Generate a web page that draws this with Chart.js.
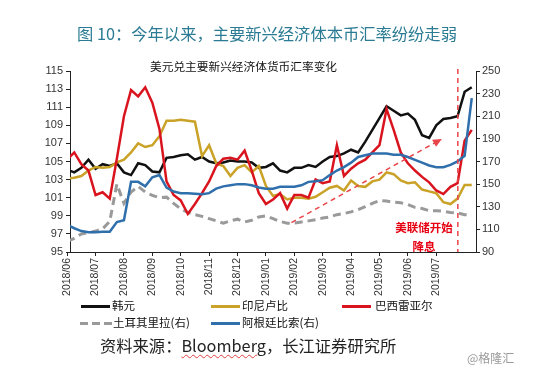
<!DOCTYPE html>
<html>
<head>
<meta charset="utf-8">
<script src="https://cdn.jsdelivr.net/npm/chart.js@4.4.1/dist/chart.umd.min.js"></script>
<style>
body { margin: 0; background: #fff; font-family: "Noto Sans CJK SC", "Liberation Sans", sans-serif; }
#wrap { position: relative; width: 550px; height: 372px; overflow: hidden; }
#wrap canvas { position: absolute; left: 0; top: 0; }
.t { position: absolute; white-space: nowrap; line-height: 1; }
.title { left: 77px; top: 25px; font-size: 16.3px; color: #2a7b93; }
.sub { left: 150px; top: 60px; font-size: 11.7px; color: #111; }
.note { font-size: 11.5px; color: #e60012; font-weight: bold; transform: translateX(-50%); }
.leg { font-size: 11.5px; color: #111; }
.sw { position: absolute; width: 29px; height: 3px; }
.src { left: 100px; top: 337px; font-size: 16.3px; color: #222; }
.src .b { text-decoration: underline wavy #e04040; text-decoration-thickness: 1px; text-underline-offset: 2px; }
.wm { left: 467px; top: 352px; font-size: 12px; color: #9a9a9a; }
</style>
</head>
<body>
<div id="wrap">
  <canvas id="fxChart" width="550" height="372"></canvas>
  <div class="t title">图 10：今年以来，主要新兴经济体本币汇率纷纷走弱</div>
  <div class="t sub">美元兑主要新兴经济体货币汇率变化</div>
  <div class="t note" style="left:424px;top:222px;">美联储开始</div>
  <div class="t note" style="left:424px;top:241px;">降息</div>

  <div class="sw" style="left:81px;top:305px;background:#111;"></div>
  <div class="t leg" style="left:112px;top:300px;">韩元</div>
  <div class="sw" style="left:211px;top:305px;background:#c9a227;"></div>
  <div class="t leg" style="left:242px;top:300px;">印尼卢比</div>
  <div class="sw" style="left:342px;top:305px;background:#d9141e;"></div>
  <div class="t leg" style="left:375px;top:300px;">巴西雷亚尔</div>
  <div class="sw" style="left:80px;top:322px;background:repeating-linear-gradient(90deg,#9a9a9a 0 8px,transparent 8px 12px);width:32px;"></div>
  <div class="t leg" style="left:113px;top:317px;">土耳其里拉(右)</div>
  <div class="sw" style="left:211px;top:322px;background:#2f6fab;"></div>
  <div class="t leg" style="left:242px;top:317px;">阿根廷比索(右)</div>

  <div class="t src">资料来源：<span class="b">Bloomberg</span>，长江证券研究所</div>
  <div class="t wm">@格隆汇</div>
</div>

<script>
// month tick labels (tick i = start of month i)
const monthLabels = ['2018/06', '2018/07', '2018/08', '2018/09', '2018/10', '2018/11', '2018/12',
    '2019/01', '2019/02', '2019/03', '2019/04', '2019/05', '2019/06', '2019/07'];

// weekly readings, left axis
const krw = [104.1, 103.8, 104.3, 105.2, 104.2, 104.7, 104.5, 104.8, 103.8, 103.5, 104.8, 104.6, 103.9, 103.8, 105.4,
    105.5, 105.7, 105.8, 105.2, 105.5, 105.0, 104.8, 104.9, 105.1, 105.0, 105.0, 104.9, 104.3, 104.4, 104.8, 104.0,
    103.8, 104.3, 104.3, 104.6, 104.4, 105.0, 105.5, 105.6, 105.9, 106.3, 106.0,
    107.2, 108.5, 109.8, 111.1, 110.6, 110.1, 110.3, 109.6, 107.9, 107.6, 109.0, 109.7, 109.8, 110.0, 112.7, 113.2];
const idr = [103.1, 103.2, 103.4, 104.0, 104.4, 104.3, 104.4, 104.9, 105.2, 106.0, 107.0, 106.6, 106.8, 107.8, 109.5, 109.5, 109.6, 109.5, 109.4,
    105.6, 106.8, 104.8, 104.5, 103.4, 104.3, 104.6, 103.8, 104.5, 102.3, 101.2, 101.4,
    100.8, 101.0, 101.0, 100.9, 101.1, 101.6, 102.1, 102.3, 101.8, 102.9, 102.3, 102.2, 102.8, 103.0,
    103.8, 103.6, 102.9, 102.6, 102.7, 101.9, 101.7, 101.5, 100.5, 100.3, 100.9, 102.4, 102.4];
const brl = [105.2, 106.0, 104.7, 104.0, 101.3, 101.6, 100.9, 105.3, 110.0, 112.9, 112.2, 113.2, 111.5, 108.6,
    102.8, 101.3, 100.7, 99.2, 100.3, 101.5, 102.8, 104.5, 105.3, 105.4, 105.2, 106.2, 104.0, 101.5, 100.3, 100.8, 101.5,
    99.8, 101.3, 101.3, 101.0, 103.0, 102.6, 102.8, 106.8, 103.4, 104.2, 104.8,
    105.2, 106.0, 106.8, 110.8, 108.5, 106.0, 104.8, 104.0, 103.3, 102.7, 101.8, 101.4, 102.2, 102.6, 107.3, 108.5];

// weekly readings, right axis
const tryRate = [99.5, 102, 106, 107, 108.5, 110.5, 117, 150, 133, 143, 148, 143, 140, 138, 138.5,
    133, 128, 125, 123, 121.5, 119.5, 117.5, 115.5, 117.5, 119, 116.5, 118, 121, 122, 119.5, 117,
    115.5, 115.5, 116.5, 117.5, 118.5, 120, 121, 123, 124, 125.5, 127.5,
    130, 133, 135.5, 135, 134, 133.5, 132, 129.5, 128.5, 126.5, 126.5, 126, 125, 124.5, 123, 122.5];
const ars = [114, 111, 108.5, 107.5, 107.5, 108, 108, 116.5, 118, 152, 152, 148, 156, 158, 147,
    143.5, 142, 142, 141.5, 141, 142, 146, 148, 149, 150, 150, 149, 147, 146, 146,
    147.6, 147.6, 147.6, 149, 152, 152.5, 153.5, 158, 162, 165, 169, 174,
    175.5, 177, 177, 177, 176, 176, 174, 171.5, 169, 166.5, 165, 165, 167, 170, 175, 226];

// annotations (x in months from 2018/06, y on right axis)
const fedCutMonth = 13.76;
const trendArrow = [[7.9, 116], [13.2, 190]];

const weekPos = krw.map((_, i) => i * 0.25);
const toXY = arr => arr.map((v, i) => ({ x: weekPos[i], y: v }));

// dashed marker line and trend arrow
const annotatePlugin = {
    id: 'annotate',
    afterDatasetsDraw(chart) {
        const { ctx, chartArea, scales } = chart;
        const x = scales.x, yR = scales.yR;
        ctx.save();
        ctx.strokeStyle = '#e8454a';
        ctx.fillStyle = '#e8454a';
        ctx.lineWidth = 1.5;
        ctx.setLineDash([5, 4]);
        const vx = x.getPixelForValue(fedCutMonth);
        ctx.beginPath();
        ctx.moveTo(vx, chartArea.top - 2);
        ctx.lineTo(vx, chartArea.bottom);
        ctx.stroke();

        const x0 = x.getPixelForValue(trendArrow[0][0]), y0 = yR.getPixelForValue(trendArrow[0][1]);
        const x1 = x.getPixelForValue(trendArrow[1][0]), y1 = yR.getPixelForValue(trendArrow[1][1]);
        const ang = Math.atan2(y1 - y0, x1 - x0);
        ctx.beginPath();
        ctx.moveTo(x0, y0);
        ctx.lineTo(x1 - 6 * Math.cos(ang), y1 - 6 * Math.sin(ang));
        ctx.stroke();
        ctx.setLineDash([]);
        ctx.beginPath();
        ctx.moveTo(x1, y1);
        ctx.lineTo(x1 - 9 * Math.cos(ang) + 4 * Math.sin(ang), y1 - 9 * Math.sin(ang) - 4 * Math.cos(ang));
        ctx.lineTo(x1 - 9 * Math.cos(ang) - 4 * Math.sin(ang), y1 - 9 * Math.sin(ang) + 4 * Math.cos(ang));
        ctx.closePath();
        ctx.fill();
        ctx.restore();
    }
};

function line(label, data, color, axis, order, dash) {
    return {
        label: label,
        data: toXY(data),
        yAxisID: axis,
        borderColor: color,
        borderWidth: dash ? 3 : 2.5,
        borderDash: dash || [],
        pointRadius: 0,
        tension: 0,
        fill: false,
        order: order
    };
}

function initFxChart() {
    const ctx = document.getElementById('fxChart').getContext('2d');
    const tickFont = { family: 'Liberation Sans', size: 11 };
    new Chart(ctx, {
        type: 'line',
        data: {
            datasets: [
                line('韩元', krw, '#111111', 'y', 5),
                line('印尼卢比', idr, '#c9a227', 'y', 4),
                line('巴西雷亚尔', brl, '#d9141e', 'y', 2),
                line('土耳其里拉(右)', tryRate, '#9a9a9a', 'yR', 3, [8, 5]),
                line('阿根廷比索(右)', ars, '#2f6fab', 'yR', 1)
            ]
        },
        options: {
            responsive: false,
            animation: false,
            layout: { padding: { top: 71, left: 0, right: 0, bottom: 0 } },
            plugins: { legend: { display: false }, tooltip: { enabled: false } },
            scales: {
                x: {
                    type: 'linear',
                    min: 0.1,
                    max: 14.4,
                    afterBuildTicks: s => { s.ticks = monthLabels.map((_, i) => ({ value: i })); },
                    afterFit: s => { s.height = 120; },
                    ticks: {
                        autoSkip: false, minRotation: 90, maxRotation: 90, padding: 2,
                        color: '#333', font: { family: 'Liberation Sans', size: 10.5 },
                        callback: v => monthLabels[v]
                    },
                    grid: { drawOnChartArea: false, tickLength: 4, color: '#222' },
                    border: { color: '#222' }
                },
                y: {
                    position: 'left',
                    min: 95, max: 115,
                    afterFit: s => { s.width = 70; },
                    ticks: { stepSize: 2, color: '#333', font: tickFont, padding: 3 },
                    grid: { drawOnChartArea: false, tickLength: 4, color: '#222' },
                    border: { color: '#222' }
                },
                yR: {
                    position: 'right',
                    min: 90, max: 250,
                    afterFit: s => { s.width = 74; },
                    ticks: { stepSize: 20, color: '#333', font: tickFont, padding: 2 },
                    grid: { drawOnChartArea: false, tickLength: 4, color: '#222' },
                    border: { color: '#222' }
                }
            }
        },
        plugins: [annotatePlugin]
    });
}

window.onload = function() {
    initFxChart();
};
</script>
</body>
</html>
